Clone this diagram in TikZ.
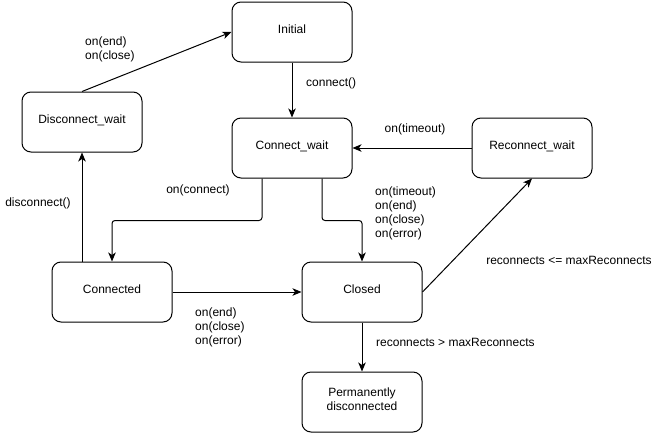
\documentclass[tikz,border=0pt]{standalone}
\usepackage{fontspec}
\setmainfont{Liberation Sans}
\usetikzlibrary{arrows.meta, positioning}

\begin{document}
\begin{tikzpicture}[x=1pt, y=-1pt, >={Stealth[length=9pt, width=7.5pt, inset=2.5pt]}, font=\fontsize{12}{14}\selectfont]
		\tikzstyle{state} = [draw=black, line width=1pt, rounded corners=9pt, minimum width=120pt, minimum height=60pt, align=center, text depth=6pt]
		\tikzstyle{lbl} = [inner sep=0pt, align=left]
		
		\useasboundingbox (0,0) rectangle (658,434);
		
		\node[state] 	at (292, 32) 	(init) 	{Initial};
		\node[state] 	at (82, 122) 	(dw) 	{Disconnect\_wait};
		\node[state] 	at (292, 148) 	(cw) 	{Connect\_wait};
		\node[state] 	at (532, 148) 	(rw) 	{Reconnect\_wait};
		\node[state] 	at (112, 292) 	(con) 	{Connected};
		\node[state] 	at (362, 292) 	(closed) 	{Closed};
		\node[state] 	at (362, 402) 	(perm) 	{Permanently\\disconnected};
		
		% transition labels
		\node[lbl, anchor=west] 	at (85, 49.5) 	(l-end) 	{on(end)\\on(close)};
		\node[lbl, anchor=west] 	at (306, 83) 	(l-conn) 	{connect()};
		\node[lbl] 	at (415, 129) 	(l-tout) 	{on(timeout)};
		\node[lbl] 	at (198, 190) 	(l-onconn) 	{on(connect)};
		\node[lbl] 	at (38, 203) 	(l-disc) 	{disconnect()};
		\node[lbl, anchor=west] 	at (375, 213) 	(l-close) 	{on(timeout)\\on(end)\\on(close)\\on(error)};
		\node[lbl, anchor=west] 	at (195, 327) 	(l-err) 	{on(end)\\on(close)\\on(error)};
		\node[lbl] 	at (569, 260) 	(l-le) 	{reconnects <= maxReconnects};
		\node[lbl, anchor=west] 	at (376, 342) 	(l-gt) 	{reconnects > maxReconnects};
		
		\path[->, line width=1pt]
		(dw.north)	edge	(init.west)
		(init)	edge	(cw)
		(rw)	edge	(cw)
		([xshift=-30pt]con.north)	edge	(dw.south)
		(con)	edge	(closed)
		(closed.east)	edge	(rw.south)
		(closed)	edge	(perm);
		
		\draw[->, line width=1pt, rounded corners=3pt] ([xshift=-30pt]cw.south) -- ++(0, 42) -| (con.north);
		\draw[->, line width=1pt, rounded corners=3pt] ([xshift=30pt]cw.south) -- ++(0, 42) -| (closed.north);
\end{tikzpicture}
\end{document}
